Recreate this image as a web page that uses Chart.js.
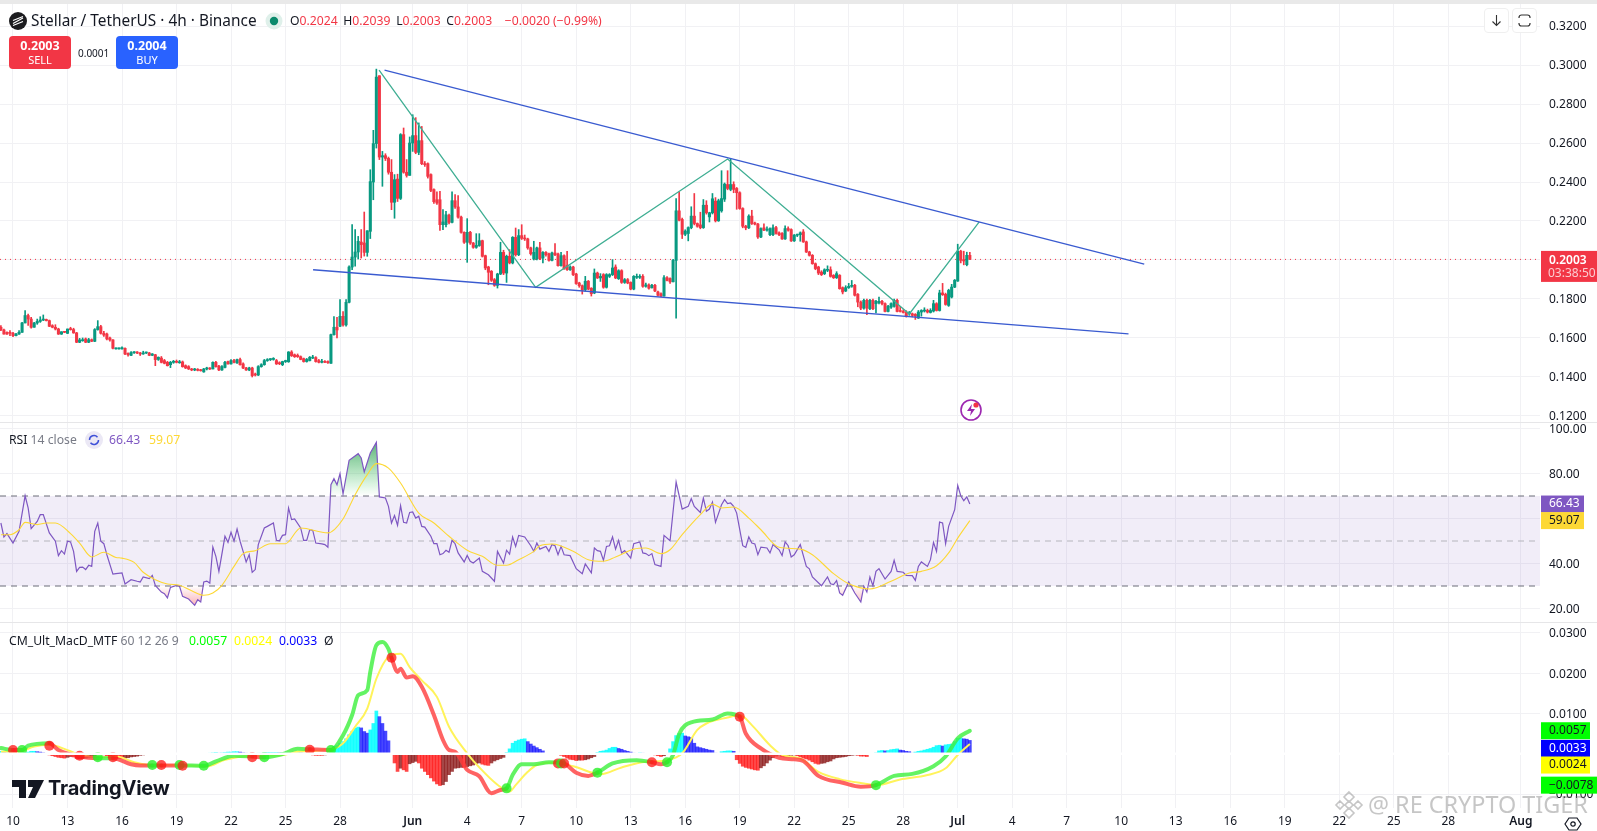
<!DOCTYPE html>
<html lang="en">
<head>
<meta charset="UTF-8">
<title>Stellar / TetherUS</title>
<script src="https://cdn.jsdelivr.net/npm/chart.js"></script>
<style>
    html, body { margin: 0; padding: 0; background: #fff; overflow: hidden; }
    body { width: 1597px; height: 831px; position: relative; font-family: "Noto Sans", sans-serif; color: #131722; }
    canvas { position: absolute; left: 0; }
    .abs { position: absolute; white-space: nowrap; }
    .strip { left: 0; top: 0; width: 1597px; height: 4px; background: #e9e9e9; }
    .divider { left: 0; width: 1597px; height: 1px; background: #e6e6e8; }
    .title { left: 31px; top: 10px; font-size: 15.4px; line-height: 21px; }
    .ohlc { left: 290px; top: 12px; font-size: 12.2px; line-height: 18px; color: #f23645; }
    .ohlc b { font-weight: 400; color: #131722; }
    .ohlc span { margin-right: 2.5px; }
    .trade { top: 36px; width: 62px; height: 33px; border-radius: 4px; color: #fff; text-align: center; font-size: 11px; line-height: 14px; padding-top: 2px; height: 31px; }
    .trade strong { display: block; font-size: 12.5px; line-height: 15px; font-weight: 700; }
    .btn { top: 8px; width: 23px; height: 23px; border: 1px solid #efefef; border-radius: 4px; background: #fff; }
    .legend { font-size: 12.2px; line-height: 18px; }
    .grey { color: #787b86; }
    .tv { left: 48px; top: 775px; font-size: 20px; line-height: 26px; font-weight: 700; color: #131722; letter-spacing: -0.2px; font-family: Inter, sans-serif; }
    .mark { left: 1368px; top: 790px; font-size: 23.4px; line-height: 28px; color: rgba(120,120,120,0.42); }
</style>
</head>
<body>
<div class="abs strip"></div>
<canvas id="priceChart" width="1597" height="418" style="top:4px"></canvas>
<canvas id="rsiChart" width="1597" height="200" style="top:422px"></canvas>
<canvas id="macdChart" width="1597" height="209" style="top:622px"></canvas>
<div class="abs divider" style="top:422px"></div>
<div class="abs divider" style="top:622px"></div>

<svg class="abs" style="left:9px;top:12px" width="18" height="18" viewBox="0 0 18 18"><circle cx="9" cy="9" r="9" fill="#1c1c1f"/><path d="M4 11.5 14 6M4 8.5 14 4.5M4 13.5 14 9.5" stroke="#fff" stroke-width="1.2" fill="none"/></svg>
<div class="abs title">Stellar / TetherUS · 4h · Binance</div>
<svg class="abs" style="left:265px;top:12px" width="18" height="18" viewBox="0 0 18 18"><circle cx="9" cy="9" r="8.5" fill="#dff0ea"/><circle cx="9" cy="9" r="4.2" fill="#0a8a6c"/></svg>
<div class="abs ohlc"><span><b>O</b>0.2024</span> <span><b>H</b>0.2039</span> <span><b>L</b>0.2003</span> <span><b>C</b>0.2003</span> <span style="margin-left:7px">−0.0020 (−0.99%)</span></div>
<div class="abs trade" style="left:9px;background:#f23645"><strong>0.2003</strong>SELL</div>
<div class="abs" style="left:78px;top:46px;font-size:10px;line-height:14px">0.0001</div>
<div class="abs trade" style="left:116px;background:#2962ff"><strong>0.2004</strong>BUY</div>

<div class="abs btn" style="left:1484px"><svg width="23" height="23" viewBox="0 0 23 23"><path d="M11.5 6v10M7.5 12.5l4 4 4-4" stroke="#333" stroke-width="1.1" fill="none"/></svg></div>
<div class="abs btn" style="left:1512px"><svg width="23" height="23" viewBox="0 0 23 23"><path d="M6 9V8.5a2.500 2.500 0 0 1 2.500-2.500h6a2.500 2.500 0 0 1 2.500 2.500V9M6 14v.5A2.500 2.500 0 0 0 8.500 17h6a2.500 2.500 0 0 0 2.500-2.500V14" stroke="#333" stroke-width="1.2" fill="none"/></svg></div>

<svg class="abs" style="left:959px;top:398px" width="24" height="24" viewBox="0 0 24 24"><circle cx="12" cy="12" r="10" fill="#fff" stroke="#9c27b0" stroke-width="1.6"/><path d="M13 6l-5 7h4l-1 5 5-7h-4z" fill="#9c27b0"/><circle cx="17" cy="7" r="2.600" fill="#f23645"/></svg>

<div class="abs legend" style="left:9px;top:431px">RSI <span class="grey">14 close</span></div>
<svg class="abs" style="left:85px;top:431px" width="18" height="18" viewBox="0 0 18 18"><circle cx="9" cy="9" r="9" fill="#ebe8f5"/><path d="M4.500 9a4.500 4.500 0 0 1 8-2.800M13.500 9a4.500 4.500 0 0 1-8 2.800" stroke="#3f51d8" stroke-width="1.500" fill="none"/></svg>
<div class="abs legend" style="left:109px;top:431px;color:#7e57c2">66.43</div>
<div class="abs legend" style="left:149px;top:431px;color:#fdd835">59.07</div>

<div class="abs legend" style="left:9px;top:632px">CM_Ult_MacD_MTF <span class="grey">60 12 26 9</span></div>
<div class="abs legend" style="left:189px;top:632px;color:#00ff00">0.0057</div>
<div class="abs legend" style="left:234px;top:632px;color:#ffff00">0.0024</div>
<div class="abs legend" style="left:279px;top:632px;color:#0000ff">0.0033</div>
<div class="abs legend" style="left:324px;top:632px">Ø</div>

<svg class="abs" style="left:12px;top:780px" width="32" height="18" viewBox="0 0 32 18"><path d="M0 0h14v18H7V7H0zM16 0h16l-9 18h-7l5-11h-5z" fill="#131722"/><circle cx="18" cy="4" r="0" /></svg>
<div class="abs tv">TradingView</div>

<svg class="abs" style="left:1334px;top:790px" width="30" height="30" viewBox="0 0 30 30"><path d="M15 2l5 5-5 5-5-5zM6 11l4 4-4 4-4-4zM24 11l4 4-4 4-4-4zM15 18l5 5-5 5-5-5zM15 11l4 4-4 4-4-4z" fill="none" stroke="rgba(120,120,120,0.42)" stroke-width="1.600"/></svg>
<div class="abs mark">@ RE CRYPTO TIGER</div>
<svg class="abs" style="left:1564px;top:815px" width="18" height="18" viewBox="0 0 18 18"><path d="M5 3h8l4 6-4 6H5L1 9z" fill="none" stroke="#131722" stroke-width="1.200"/><circle cx="9" cy="9" r="2.200" fill="none" stroke="#131722" stroke-width="1.200"/></svg>

<script>
    const opens = [
        .1655,.1641,.1629,.1629,.1624,.1612,.1620,.1629,.1677,.1715,
        .1697,.1655,.1677,.1685,.1692,.1695,.1689,.1663,.1655,.1646,
        .1620,.1632,.1624,.1648,.1643,.1626,.1578,.1586,.1595,.1578,
        .1591,.1583,.1643,.1658,.1624,.1620,.1600,.1590,.1544,.1544,
        .1544,.1547,.1521,.1511,.1524,.1525,.1523,.1518,.1523,.1523,
        .1511,.1514,.1490,.1497,.1484,.1475,.1463,.1475,.1479,.1473,
        .1477,.1458,.1453,.1441,.1436,.1439,.1436,.1426,.1441,.1446,
        .1441,.1475,.1456,.1436,.1449,.1479,.1467,.1484,.1472,.1489,
        .1467,.1446,.1436,.1446,.1415,.1410,.1453,.1463,.1484,.1489,
        .1490,.1484,.1473,.1463,.1479,.1478,.1528,.1514,.1511,.1504,
        .1494,.1479,.1484,.1497,.1499,.1484,.1475,.1479,.1479,.1470,
        .1617,.1655,.1660,.1711,.1667,.1783,.1964,.2015,.2041,.2092,
        .2087,.2039,.2147,.2400,.2597,.2945,.2528,.2535,.2521,.2450,
        .2296,.2415,.2316,.2643,.2450,.2434,.2600,.2638,.2552,.2612,
        .2494,.2494,.2438,.2361,.2309,.2309,.2181,.2181,.2229,.2193,
        .2304,.2272,.2220,.2142,.2091,.2142,.2087,.2065,.2074,.2099,
        .2022,.1964,.1942,.1899,.1870,.1928,.2039,.1933,.2019,.1985,
        .2116,.2027,.2125,.2111,.2108,.2062,.2005,.2005,.2062,.2010,
        .2039,.2032,.1998,.2036,.2031,.1971,.2022,.1973,.1950,.1964,
        .1928,.1882,.1868,.1848,.1891,.1855,.1831,.1933,.1908,.1925,
        .1860,.1916,.1925,.1964,.1904,.1945,.1885,.1899,.1885,.1851,
        .1911,.1911,.1916,.1865,.1872,.1858,.1870,.1836,.1827,.1815,
        .1909,.1905,.1888,.1998,.2252,.2208,.2132,.2136,.2166,.2225,
        .2187,.2180,.2166,.2281,.2221,.2242,.2302,.2201,.2252,.2312,
        .2387,.2362,.2387,.2367,.2345,.2264,.2173,.2165,.2225,.2190,
        .2184,.2118,.2165,.2153,.2130,.2130,.2166,.2139,.2136,.2108,
        .2161,.2156,.2098,.2127,.2130,.2144,.2093,.2041,.2024,.1981,
        .1964,.1938,.1930,.1947,.1950,.1921,.1909,.1921,.1858,.1841,
        .1858,.1865,.1870,.1824,.1784,.1753,.1793,.1750,.1793,.1776,
        .1781,.1788,.1776,.1736,.1758,.1762,.1793,.1738,.1736,.1733,
        .1724,.1724,.1721,.1702,.1733,.1738,.1741,.1731,.1738,.1776,
        .1741,.1831,.1824,.1767,.1810,.1861,.1892,.2045,.2002,.1976,.2024
    ];
    const highs = [
        .1664,.1646,.1632,.1638,.1629,.1624,.1638,.1680,.1740,.1723,
        .1706,.1680,.1697,.1709,.1718,.1697,.1692,.1668,.1668,.1650,
        .1632,.1634,.1646,.1655,.1650,.1629,.1598,.1600,.1600,.1598,
        .1595,.1648,.1689,.1665,.1634,.1625,.1605,.1592,.1550,.1550,
        .1555,.1550,.1524,.1530,.1530,.1530,.1526,.1532,.1528,.1526,
        .1520,.1516,.1503,.1505,.1490,.1480,.1480,.1485,.1487,.1485,
        .1482,.1462,.1458,.1444,.1444,.1443,.1439,.1444,.1450,.1448,
        .1478,.1480,.1460,.1458,.1480,.1482,.1489,.1490,.1492,.1497,
        .1472,.1449,.1450,.1450,.1420,.1458,.1468,.1490,.1494,.1494,
        .1499,.1490,.1478,.1481,.1486,.1530,.1535,.1518,.1518,.1508,
        .1497,.1495,.1505,.1511,.1504,.1490,.1490,.1484,.1483,.1620,
        .1710,.1706,.1797,.1735,.1797,.1970,.2181,.2156,.2121,.2156,
        .2246,.2150,.2463,.2665,.2979,.2945,.2557,.2545,.2528,.2515,
        .2438,.2440,.2648,.2677,.2515,.2631,.2745,.2730,.2703,.2685,
        .2505,.2498,.2442,.2365,.2349,.2352,.2258,.2250,.2235,.2349,
        .2335,.2330,.2225,.2145,.2212,.2147,.2090,.2135,.2135,.2102,
        .2025,.1968,.1946,.1905,.1932,.2091,.2050,.2025,.2053,.2120,
        .2164,.2156,.2181,.2128,.2112,.2066,.2096,.2066,.2091,.2043,
        .2043,.2036,.2040,.2084,.2035,.2039,.2026,.2044,.1970,.1968,
        .1932,.1886,.1872,.1916,.1895,.1858,.1954,.1938,.1930,.1930,
        .1930,.1930,.2002,.1975,.1950,.1950,.1905,.1905,.1888,.1920,
        .1928,.1925,.1925,.1882,.1878,.1875,.1875,.1841,.1832,.1920,
        .1915,.1909,.2003,.2315,.2350,.2215,.2155,.2170,.2273,.2341,
        .2190,.2245,.2310,.2304,.2245,.2341,.2320,.2312,.2458,.2395,
        .2458,.2518,.2401,.2372,.2350,.2268,.2178,.2232,.2255,.2195,
        .2188,.2165,.2185,.2170,.2165,.2180,.2172,.2144,.2140,.2175,
        .2170,.2160,.2131,.2133,.2144,.2156,.2097,.2045,.2028,.1985,
        .1968,.1945,.1955,.1970,.1965,.1925,.1940,.1925,.1862,.1868,
        .1880,.1895,.1875,.1828,.1790,.1800,.1800,.1798,.1800,.1793,
        .1810,.1793,.1780,.1767,.1780,.1800,.1800,.1762,.1745,.1740,
        .1736,.1728,.1725,.1741,.1745,.1755,.1748,.1750,.1793,.1781,
        .1845,.1880,.1830,.1850,.1875,.1900,.2081,.2050,.2045,.2040,.2039
    ];
    const lows = [
        .1638,.1620,.1618,.1612,.1607,.1610,.1618,.1629,.1677,.1664,
        .1650,.1655,.1670,.1680,.1689,.1687,.1658,.1652,.1641,.1618,
        .1618,.1627,.1622,.1640,.1624,.1576,.1576,.1583,.1576,.1576,
        .1581,.1581,.1640,.1620,.1608,.1590,.1583,.1544,.1542,.1542,
        .1542,.1514,.1507,.1509,.1521,.1519,.1510,.1516,.1520,.1509,
        .1509,.1458,.1485,.1472,.1467,.1456,.1448,.1470,.1472,.1470,
        .1450,.1443,.1438,.1432,.1432,.1431,.1430,.1424,.1436,.1438,
        .1441,.1450,.1432,.1434,.1447,.1465,.1465,.1472,.1470,.1460,
        .1443,.1433,.1432,.1400,.1405,.1407,.1450,.1460,.1480,.1484,
        .1486,.1464,.1463,.1458,.1474,.1475,.1505,.1500,.1500,.1488,
        .1476,.1476,.1482,.1494,.1476,.1472,.1472,.1473,.1470,.1470,
        .1615,.1600,.1658,.1660,.1660,.1780,.1950,.1968,.2005,.2010,
        .2020,.2019,.2110,.2309,.2574,.2515,.2378,.2510,.2440,.2258,
        .2214,.2300,.2310,.2445,.2425,.2434,.2557,.2545,.2540,.2489,
        .2480,.2420,.2350,.2290,.2285,.2152,.2156,.2170,.2185,.2190,
        .2265,.2215,.2138,.2085,.1988,.2080,.2060,.2060,.2070,.2015,
        .1950,.1873,.1890,.1865,.1856,.1925,.1925,.1885,.1980,.1980,
        .2020,.2022,.2105,.2100,.2055,.2025,.2000,.2000,.2002,.1985,
        .2020,.1994,.1995,.2022,.1968,.1968,.1952,.1946,.1946,.1920,
        .1875,.1860,.1825,.1840,.1847,.1815,.1827,.1905,.1890,.1855,
        .1856,.1910,.1920,.1904,.1900,.1880,.1880,.1878,.1847,.1847,
        .1905,.1905,.1860,.1860,.1850,.1855,.1838,.1815,.1812,.1815,
        .1892,.1880,.1888,.1702,.2200,.2110,.2125,.2098,.2160,.2180,
        .2168,.2160,.2162,.2235,.2195,.2236,.2195,.2198,.2245,.2300,
        .2360,.2355,.2345,.2260,.2260,.2165,.2155,.2161,.2182,.2180,
        .2110,.2115,.2150,.2148,.2125,.2125,.2132,.2125,.2105,.2105,
        .2148,.2095,.2095,.2120,.2096,.2090,.2038,.2020,.1978,.1950,
        .1925,.1920,.1925,.1940,.1912,.1905,.1905,.1850,.1826,.1838,
        .1854,.1860,.1815,.1760,.1745,.1748,.1720,.1745,.1745,.1728,
        .1775,.1770,.1733,.1733,.1752,.1758,.1733,.1733,.1728,.1707,
        .1716,.1708,.1695,.1700,.1712,.1733,.1728,.1728,.1733,.1738,
        .1738,.1818,.1768,.1762,.1805,.1858,.1890,.1985,.1975,.1970,.2003
    ];
    const closes = [
        .1641,.1620,.1620,.1624,.1612,.1620,.1629,.1677,.1715,.1697,
        .1655,.1677,.1685,.1692,.1697,.1689,.1660,.1655,.1646,.1620,
        .1632,.1629,.1646,.1643,.1626,.1578,.1590,.1591,.1578,.1591,
        .1583,.1643,.1658,.1624,.1615,.1595,.1590,.1547,.1547,.1547,
        .1550,.1518,.1514,.1525,.1525,.1523,.1518,.1523,.1525,.1511,
        .1518,.1489,.1501,.1475,.1470,.1458,.1475,.1479,.1475,.1477,
        .1453,.1446,.1441,.1436,.1439,.1434,.1432,.1441,.1446,.1441,
        .1475,.1453,.1436,.1453,.1475,.1467,.1484,.1475,.1489,.1463,
        .1446,.1436,.1446,.1407,.1410,.1453,.1463,.1484,.1489,.1490,
        .1494,.1467,.1468,.1479,.1482,.1528,.1509,.1504,.1504,.1490,
        .1479,.1490,.1501,.1501,.1479,.1475,.1479,.1475,.1473,.1617,
        .1655,.1641,.1711,.1667,.1783,.1964,.2015,.2041,.2096,.2079,
        .2039,.2150,.2402,.2597,.2938,.2528,.2535,.2521,.2450,.2296,
        .2412,.2316,.2643,.2450,.2434,.2600,.2638,.2552,.2612,.2494,
        .2489,.2429,.2357,.2299,.2292,.2181,.2195,.2232,.2193,.2304,
        .2272,.2220,.2142,.2091,.2142,.2087,.2065,.2075,.2099,.2019,
        .1959,.1937,.1896,.1870,.1928,.2039,.1933,.2019,.1985,.2116,
        .2027,.2125,.2111,.2108,.2062,.2032,.2039,.2062,.2007,.2039,
        .2027,.1998,.2036,.2027,.1971,.2022,.1956,.1950,.1964,.1925,
        .1879,.1868,.1844,.1891,.1851,.1827,.1933,.1908,.1916,.1860,
        .1925,.1925,.1959,.1908,.1945,.1885,.1899,.1882,.1851,.1916,
        .1916,.1916,.1865,.1872,.1855,.1870,.1841,.1819,.1815,.1909,
        .1895,.1888,.1998,.2252,.2204,.2132,.2148,.2166,.2225,.2187,
        .2173,.2166,.2281,.2242,.2242,.2314,.2201,.2304,.2315,.2389,
        .2367,.2387,.2362,.2345,.2264,.2173,.2165,.2225,.2187,.2184,
        .2118,.2161,.2153,.2158,.2161,.2165,.2136,.2130,.2108,.2161,
        .2153,.2098,.2127,.2130,.2139,.2093,.2041,.2024,.1981,.1956,
        .1933,.1925,.1950,.1950,.1916,.1909,.1930,.1853,.1836,.1858,
        .1865,.1870,.1819,.1784,.1753,.1793,.1753,.1793,.1750,.1788,
        .1788,.1776,.1736,.1762,.1776,.1793,.1736,.1736,.1731,.1712,
        .1728,.1716,.1712,.1733,.1741,.1741,.1733,.1741,.1776,.1741,
        .1831,.1822,.1772,.1844,.1861,.1896,.2045,.1998,.1995,.2024,.2003
    ];

    // trend lines drawn on the chart, bar number then price
    const upperBars = [126.7, 377.6];
    const upperPrices = [.2974, .1979];
    const lowerBars = [103.1, 372.4];
    const lowerPrices = [.1950, .1621];
    const zigzagBars = [124.9, 176.6, 240, 300, 323.1];
    const zigzagPrices = [.2974, .1860, .2518, .1723, .2196];
    const lastPrice = .2003;

    const rsiBars = [0,1,2,4,6,8,9,10,12,13,14,16,18,19,20,21,22,23,24,25,26,27,28,29,30,31,32,33,34,35,37,38,40,41,43,45,46,47,49,50,51,53,54,55,56,58,59,60,62,64,65,66,67,68,69,70,71,72,74,75,76,77,78,79,80,81,82,83,84,85,87,88,90,91,92,93,94,95,96,97,99,100,101,102,103,104,106,107,108,109,110,111,112,113,115,118,119,120,122,124,125,127,128,129,130,131,132,133,134,135,136,137,138,139,140,142,143,144,145,146,147,148,149,150,151,153,154,155,156,158,159,161,163,164,166,167,168,169,170,171,173,175,176,177,178,180,181,182,183,184,185,186,188,190,192,193,195,196,197,198,199,200,201,202,203,204,205,206,208,209,211,212,213,214,215,216,218,219,221,223,225,227,228,229,231,232,233,234,235,236,238,239,240,241,242,243,245,246,247,248,249,250,251,253,254,255,257,258,259,260,261,262,264,266,267,268,271,273,274,275,276,277,278,280,282,284,285,286,287,288,289,290,292,294,295,296,298,299,301,302,303,304,306,307,308,309,310,311,312,313,315,316,317,318,319,320];
    const rsiValues = [58.0,51.8,53.3,49.1,54.3,70.1,64.7,55.5,58.7,61.7,61.7,53.6,49.9,43.5,45.7,44.2,49.9,49.6,45.4,36.5,38.3,38.4,37.3,39.2,38.7,54.3,58.0,49.9,48.8,43.9,35.3,35.5,35.8,30.9,32.8,32.1,31.8,34.0,33.3,34.7,30.3,27.3,26.6,24.7,29.4,30.3,29.9,25.4,24.2,21.4,23.9,22.9,31.8,32.2,31.3,47.3,43.2,36.5,52.1,49.4,53.9,49.9,55.3,49.9,45.4,40.7,43.9,36.1,37.3,48.4,55.8,56.5,58.0,50.3,50.1,52.5,52.8,64.7,59.5,59.8,55.8,50.3,50.3,55.0,54.7,49.1,48.7,48.4,47.2,75.0,77.7,75.0,79.9,71.0,85.9,88.8,86.9,80.7,89.1,93.9,69.6,69.1,65.4,58.0,61.3,57.0,65.7,58.3,58.0,62.7,62.9,60.2,61.0,56.5,56.2,52.1,48.8,48.8,43.9,44.4,45.9,45.0,50.3,48.8,44.7,40.7,43.6,41.0,40.2,42.4,36.5,35.0,32.1,45.4,40.2,45.9,44.2,51.8,47.6,52.5,51.8,47.9,45.4,49.1,46.4,47.6,45.4,48.4,47.9,43.9,47.6,43.9,43.5,37.7,35.5,39.8,35.8,46.9,45.7,45.4,41.4,47.6,47.9,51.8,46.4,50.3,44.7,45.7,42.4,48.8,49.6,44.7,44.4,43.5,44.4,39.5,38.7,52.5,50.1,76.2,64.2,65.4,68.8,65.4,62.7,69.1,63.2,64.2,67.3,58.3,66.1,68.4,66.6,66.9,65.4,62.4,47.9,47.2,51.8,49.1,48.7,43.9,47.3,46.9,44.7,48.4,46.1,43.5,49.6,47.9,42.9,43.9,48.4,38.7,37.6,34.0,30.1,34.0,31.0,30.6,32.4,26.9,25.9,31.8,26.9,22.9,29.9,27.3,34.0,30.1,36.5,37.7,33.1,36.5,41.4,36.5,36.1,34.7,34.6,32.5,38.7,40.7,38.7,41.7,49.4,45.4,58.4,58.0,48.8,56.5,63.9,74.7,70.1,67.9,69.6,66.43];
    const rsiMaBars = [0,3,6,8,12,15,18,23,26,30,34,38,40,44,47,51,55,59,63,67,70,73,77,80,84,89,94,99,108,113,117,121,124,128,132,138,143,148,154,159,164,167,171,176,178,182,189,194,199,203,209,213,218,221,225,231,235,238,242,247,251,257,264,268,275,280,287,294,300,304,309,313,316,320];
    const rsiMaValues = [52.8,52.8,55.0,58.3,57.3,58.0,58.0,53.3,49.1,42.9,45.0,42.7,42.4,40.5,36.1,32.8,30.9,30.3,27.9,25.9,26.9,30.3,38.7,44.4,45.7,48.8,48.8,55.8,53.6,59.8,70.6,79.5,84.4,82.4,75.8,62.4,58.0,52.1,45.9,43.2,39.2,39.2,41.7,45.4,47.9,48.7,45.4,41.7,41.0,42.9,46.4,46.9,44.4,46.1,52.8,61.7,66.4,64.7,65.1,60.2,55.0,47.2,46.4,43.9,35.5,31.0,28.7,32.1,35.8,36.5,39.0,44.7,51.3,59.07];
    const rsiLevels = [70, 50, 30];

    const macdBars = [0,4,7,9,16,19,26,32,37,43,46,50,53,59,67,71,77,83,87,93,98,102,109,113,116,118,121,122,124,126,128,129,131,132,134,136,139,143,146,148,150,154,158,162,165,167,169,172,176,181,184,186,190,194,197,202,210,215,218,220,222,224,228,235,240,244,246,251,257,262,265,270,278,284,289,295,301,308,312,316,320];
    const macdValues = [.0014,.0009,.0009,.0020,.0026,.0009,-.0007,-.0011,-.0011,-.0026,-.0029,-.0029,-.0029,-.0029,-.0030,-.0019,-.0005,-.0007,-.0009,-.0001,.0012,.0011,.0009,.0046,.0096,.0145,.0158,.0203,.0269,.0277,.0260,.0238,.0203,.0211,.0189,.0192,.0166,.0096,.0034,.0009,.0005,-.0040,-.0056,-.0098,-.0090,-.0086,-.0053,-.0026,-.0026,-.0021,-.0022,-.0024,-.0047,-.0055,-.0047,-.0024,-.0016,-.0021,-.0026,-.0021,-.0003,.0049,.0078,.0085,.0100,.0092,.0050,.0013,-.0010,-.0014,-.0018,-.0055,-.0072,-.0082,-.0078,-.0055,-.0050,-.0031,-.0007,.0038,.0057];
    const signalBars = [0,6,11,16,22,26,33,38,44,49,59,68,74,83,93,98,109,113,117,121,124,128,132,135,139,144,148,154,158,164,168,170,174,177,183,189,198,205,213,220,225,230,233,240,244,248,254,258,264,270,277,285,289,297,306,312,316,320];
    const signalValues = [.0005,.0005,.0018,.0022,.0009,-.0003,-.0009,-.0007,-.0021,-.0028,-.0028,-.0032,-.0015,-.0005,-.0003,.0005,.0011,.0026,.0067,.0112,.0186,.0240,.0248,.0215,.0182,.0141,.0067,.0001,-.0034,-.0077,-.0094,-.0078,-.0045,-.0028,-.0022,-.0031,-.0051,-.0034,-.0020,-.0016,.0001,.0059,.0075,.0090,.0096,.0071,.0021,-.0003,-.0012,-.0045,-.0063,-.0074,-.0078,-.0064,-.0053,-.0036,-.0003,.0024];
    const crossBars = [4,7,16,26,32,37,50,53,59,60,67,83,87,102,109,129,167,184,185,186,197,215,220,244,289];
    const crossValues = [.0009,.0009,.0020,-.0005,-.0009,-.0009,-.0028,-.0028,-.0028,-.0030,-.0030,-.0009,-.0009,.0010,.0009,.0238,-.0086,-.0024,-.0024,-.0024,-.0047,-.0021,-.0021,.0092,-.0078];
    const crossUps = [0,1,0,0,1,0,1,0,1,0,1,0,1,0,1,0,1,0,1,0,1,0,1,0,1];
    const histValues = [
        .0006,.0004,.0002,-.0001,-.0002,-.0002,-.0001,.0002,.0003,.0004,
        .0006,.0006,.0005,.0004,.0002,0,-.0003,-.0005,-.0007,-.0009,
        -.0010,-.0011,-.0009,-.0007,-.0008,-.0012,-.0013,-.0012,-.0011,-.0010,
        -.0009,-.0006,-.0002,-.0001,-.0003,-.0006,-.0007,-.0009,-.0011,-.0012,
        -.0012,-.0011,-.0010,-.0008,-.0007,-.0006,-.0004,-.0003,-.0002,0,
        0,0,0,-.0001,-.0002,-.0002,-.0002,-.0002,-.0001,0,
        0,-.0001,-.0002,-.0002,-.0002,-.0001,-.0001,0,0,.0001,
        .0002,.0003,.0001,.0002,.0003,.0004,.0004,.0005,.0005,.0004,
        .0002,.0001,0,0,0,.0001,.0001,.0002,.0003,.0003,
        .0003,.0003,.0002,.0002,.0002,.0002,.0003,.0003,.0003,.0002,
        .0001,-.0001,-.0002,-.0003,-.0004,-.0004,-.0004,-.0003,-.0002,.0003,
        .0018,.0020,.0026,.0030,.0037,.0047,.0055,.0063,.0066,.0064,
        .0055,.0051,.0059,.0075,.0106,.0092,.0075,.0056,.0032,-.0002,
        -.0023,-.0044,-.0036,-.0040,-.0044,-.0025,-.0022,-.0019,-.0023,-.0036,
        -.0044,-.0052,-.0060,-.0068,-.0075,-.0079,-.0077,-.0069,-.0052,-.0044,
        -.0036,-.0035,-.0034,-.0034,-.0032,-.0030,-.0028,-.0024,-.0023,-.0026,
        -.0028,-.0029,-.0023,-.0018,-.0015,-.0012,-.0009,.0003,.0012,.0026,
        .0031,.0034,.0036,.0037,.0030,.0024,.0019,.0015,.0011,.0007,
        0,0,0,-.0002,-.0002,-.0004,-.0007,-.0011,-.0014,-.0015,
        -.0017,-.0016,-.0016,-.0015,-.0013,-.0010,-.0007,.0003,.0006,.0007,
        .0009,.0013,.0016,.0016,.0013,.0011,.0008,.0006,.0004,.0001,
        0,.0002,.0001,0,0,-.0002,-.0003,-.0005,-.0007,-.0005,
        -.0002,.0012,.0030,.0045,.0050,.0051,.0044,.0042,.0040,.0026,
        .0017,.0015,.0013,.0011,.0009,.0008,.0001,0,.0005,.0006,
        .0007,.0007,.0006,-.0015,-.0024,-.0031,-.0034,-.0036,-.0038,-.0040,
        -.0041,-.0035,-.0030,-.0023,-.0016,-.0010,-.0006,-.0004,-.0007,-.0008,
        -.0007,-.0004,-.0003,-.0005,-.0008,-.0011,-.0013,-.0016,-.0020,-.0024,
        -.0026,-.0024,-.0023,-.0020,-.0018,-.0013,-.0010,-.0009,-.0008,-.0007,
        -.0005,-.0004,-.0003,-.0004,-.0006,-.0006,-.0007,-.0002,-.0001,.0002,
        .0007,.0008,.0007,.0008,.0010,.0011,.0012,.0009,.0008,.0006,
        .0005,.0001,.0004,.0006,.0007,.0009,.0011,.0013,.0016,.0020,
        .0021,.0019,.0022,.0023,.0024,.0030,.0038,.0039,.0037,.0036,.0033
    ];

    const tickBars = [4,22,40,58,76,94,112,136,154,172,190,208,226,244,262,280,298,316,334,352,370,388,406,424,442,460,478,502];
    const tickLabels = ['10','13','16','19','22','25','28','Jun','4','7','10','13','16','19','22','25','28','Jul','4','7','10','13','16','19','22','25','28','Aug'];
    const priceTicks = [.32,.30,.28,.26,.24,.22,.20,.18,.16,.14,.12];
    const rsiTicks = [100,80,60,40,20];
    const macdTicks = [.03,.02,.01,0,-.01];

    const xMin = -0.293, xMax = 508.3;
    const bars = opens.map((_, i) => i);
    const GREEN = '#089981', RED = '#f23645', GRID = '#f1f1f4';
    const FONT = '"Noto Sans", sans-serif';

    const pts = (xs, ys) => xs.map((x, i) => ({x: x, y: ys[i]}));
    const span = y => [{x: xMin, y: y}, {x: xMax, y: y}];

    function xAxis(showLabels) {
        return {
            type: 'linear', min: xMin, max: xMax, offset: false,
            grid: {color: GRID, offset: false, drawTicks: false},
            border: {display: false},
            afterBuildTicks: s => { s.ticks = tickBars.map(v => ({value: v})); },
            afterFit: s => { s.height = showLabels ? 23 : 0; s.paddingLeft = 0; s.paddingRight = 0; },
            ticks: {
                display: showLabels, autoSkip: false, maxRotation: 0, padding: 6, color: '#131722',
                font: c => ({family: FONT, size: 12, weight: isNaN(tickLabels[c.index]) ? '600' : '400'}),
                callback: (v, i) => tickLabels[i]
            }
        };
    }

    function yAxis(min, max, values, digits) {
        return {
            type: 'linear', position: 'right', min: min, max: max,
            grid: {color: GRID, drawTicks: false},
            border: {display: false},
            afterBuildTicks: s => { s.ticks = values.map(v => ({value: v})); },
            afterFit: s => { s.width = 57; s.paddingTop = 0; s.paddingBottom = 0; },
            ticks: {
                autoSkip: false, padding: 9, labelOffset: 1, color: '#131722', font: {family: FONT, size: 12},
                callback: v => v.toFixed(digits).replace('-', '−')
            }
        };
    }

    function line(label, data, color, width, extra) {
        return Object.assign({
            type: 'line', label: label, data: data, borderColor: color, borderWidth: width,
            pointRadius: 0, fill: false, tension: 0
        }, extra || {});
    }

    // value tags on the right hand axis: [value, text, fill, text colour, right edge, shift]
    function tagPlugin(tags) {
        return {
            id: 'tags',
            afterDraw(chart) {
                const ctx = chart.ctx, y = chart.scales.y;
                ctx.save();
                ctx.font = '12px ' + FONT;
                ctx.textBaseline = 'middle';
                tags.forEach(t => {
                    const cy = y.getPixelForValue(t[0]) + t[5];
                    ctx.fillStyle = t[2];
                    ctx.fillRect(1541, cy - 8.5, t[4] - 1541, 17);
                    ctx.fillStyle = t[3];
                    ctx.fillText(t[1], 1549, cy);
                });
                ctx.restore();
            }
        };
    }

    const priceTag = {
        id: 'priceTag',
        afterDraw(chart) {
            const ctx = chart.ctx, cy = chart.scales.y.getPixelForValue(lastPrice);
            ctx.save();
            ctx.fillStyle = RED;
            ctx.fillRect(1541, cy - 8.500, 56, 31);
            ctx.textBaseline = 'middle';
            ctx.font = '600 12px ' + FONT;
            ctx.fillStyle = '#fff';
            ctx.fillText('0.2003', 1549, cy + 1);
            ctx.font = '12px ' + FONT;
            ctx.fillStyle = 'rgba(255,255,255,0.75)';
            ctx.fillText('03:38:50', 1548, cy + 14);
            ctx.restore();
        }
    };

    const baseOptions = {
        responsive: false, animation: false, devicePixelRatio: 1,
        layout: {padding: 0, autoPadding: false},
        plugins: {legend: {display: false}, tooltip: {enabled: false}}
    };

    new Chart(document.getElementById('priceChart'), {
        type: 'bar',
        data: {
            labels: bars,
            datasets: [
                line('Upper trend', pts(upperBars, upperPrices), '#3a5bd0', 1.3, {order: 1}),
                line('Lower trend', pts(lowerBars, lowerPrices), '#3a5bd0', 1.3, {order: 1}),
                line('Swing', pts(zigzagBars, zigzagPrices), '#3fae93', 1.3, {order: 1}),
                line('Last price', span(lastPrice), RED, 1, {borderDash: [1, 4], order: 4}),
                {
                    label: 'Body', data: pts(bars, bars.map(i => [opens[i], closes[i]])),
                    backgroundColor: bars.map(i => closes[i] >= opens[i] ? GREEN : RED),
                    barThickness: 2.4, minBarLength: 1, grouped: false, order: 2
                },
                {
                    label: 'Wick', data: pts(bars, bars.map(i => [lows[i], highs[i]])),
                    backgroundColor: bars.map(i => closes[i] >= opens[i] ? GREEN : RED),
                    barThickness: 1, grouped: false, order: 3
                }
            ]
        },
        options: Object.assign({}, baseOptions, {
            scales: {x: xAxis(false), y: yAxis(.1169, .3313, priceTicks, 4)}
        }),
        plugins: [priceTag]
    });

    // the RSI pane keeps 2.25 px per unit under a top value of 102.89
    const rsiCanvas = document.getElementById('rsiChart');
    const rsiCtx = rsiCanvas.getContext('2d');
    const rsiPx = v => (102.89 - v) * 2.25;
    const overGrad = rsiCtx.createLinearGradient(0, rsiPx(92), 0, rsiPx(70));
    overGrad.addColorStop(0, 'rgba(56,160,90,0.75)');
    overGrad.addColorStop(1, 'rgba(56,200,90,0)');
    const underGrad = rsiCtx.createLinearGradient(0, rsiPx(30), 0, rsiPx(21));
    underGrad.addColorStop(0, 'rgba(242,54,69,0)');
    underGrad.addColorStop(1, 'rgba(242,54,69,0.4)');

    new Chart(rsiCanvas, {
        type: 'line',
        data: {
            datasets: [
                line('RSI', pts(rsiBars, rsiValues), '#7e57c2', 1.2, {order: 2}),
                line('RSI MA', pts(rsiMaBars, rsiMaValues), '#fdd835', 1.1, {order: 1, cubicInterpolationMode: 'monotone'}),
                line('Overbought fill', pts(rsiBars, rsiValues), 'transparent', 0, {
                    fill: {target: {value: rsiLevels[0]}, above: overGrad, below: 'transparent'}, order: 3
                }),
                line('Oversold fill', pts(rsiBars, rsiValues), 'transparent', 0, {
                    fill: {target: {value: rsiLevels[2]}, above: 'transparent', below: underGrad}, order: 3
                }),
                line('70', span(rsiLevels[0]), '#6a6d78', 1, {borderDash: [6, 5], order: 4}),
                line('50', span(rsiLevels[1]), '#b5b5bd', 1, {borderDash: [6, 5], order: 4}),
                line('30', span(rsiLevels[2]), '#6a6d78', 1, {borderDash: [6, 5], order: 4}),
                line('Band top', span(rsiLevels[0]), 'transparent', 0, {fill: {target: {value: rsiLevels[2]}, above: 'rgba(126,87,194,0.11)', below: 'transparent'}, order: 5})
            ]
        },
        options: Object.assign({}, baseOptions, {
            scales: {x: xAxis(false), y: yAxis(14.0, 102.89, rsiTicks, 2)}
        }),
        plugins: [tagPlugin([
            [66.43, '66.43', '#7e57c2', '#fff', 1584, 0],
            [59.07, '59.07', '#fdd835', '#131722', 1584, 0]
        ])]
    });

    // line is green from a bullish cross until the next bearish one
    function crossColor(bar) {
        let up = 1;
        crossBars.forEach((b, i) => { if (b <= bar) up = crossUps[i]; });
        return up ? 'rgba(60,240,60,0.8)' : 'rgba(255,60,60,0.8)';
    }

    function histColor(v, i) {
        const prev = i > 0 ? histValues[i - 1] : 0;
        if (v >= 0) return v >= prev ? 'rgba(0,255,255,0.85)' : 'rgba(0,0,255,0.72)';
        return v <= prev ? 'rgba(255,0,0,0.72)' : 'rgba(128,0,0,0.72)';
    }

    new Chart(document.getElementById('macdChart'), {
        type: 'bar',
        data: {
            labels: bars,
            datasets: [
                line('Zero', span(0), '#fff', 2.4, {order: 0}),
                {
                    type: 'line', label: 'Cross', data: pts(crossBars, crossValues), showLine: false,
                    pointRadius: 5, pointBorderWidth: 0,
                    pointBackgroundColor: crossUps.map(u => u ? 'rgba(40,240,40,0.8)' : 'rgba(255,20,20,0.75)'),
                    order: 1
                },
                line('MACD', pts(macdBars, macdValues), '#3cf03c', 4, {
                    order: 2, borderCapStyle: 'round', borderJoinStyle: 'round', cubicInterpolationMode: 'monotone',
                    segment: {borderColor: c => crossColor(c.p0.parsed.x)}
                }),
                line('Signal', pts(signalBars, signalValues), '#fff35a', 2, {order: 3, cubicInterpolationMode: 'monotone'}),
                {
                    label: 'Histogram', data: pts(bars, histValues),
                    backgroundColor: histValues.map(histColor),
                    barThickness: 3, grouped: false, order: 4
                }
            ]
        },
        options: Object.assign({}, baseOptions, {
            scales: {x: xAxis(true), y: yAxis(-.01347, .03268, macdTicks, 4)}
        }),
        plugins: [tagPlugin([
            [.0057, '0.0057', '#00ff00', '#131722', 1590, 0],
            [.0033, '0.0033', '#0000ff', '#fff', 1590, 8],
            [.0024, '0.0024', '#ffff00', '#131722', 1590, 21],
            [-.0078, '−0.0078', '#00ff00', '#131722', 1597, 0]
        ])]
    });
</script>
</body>
</html>
